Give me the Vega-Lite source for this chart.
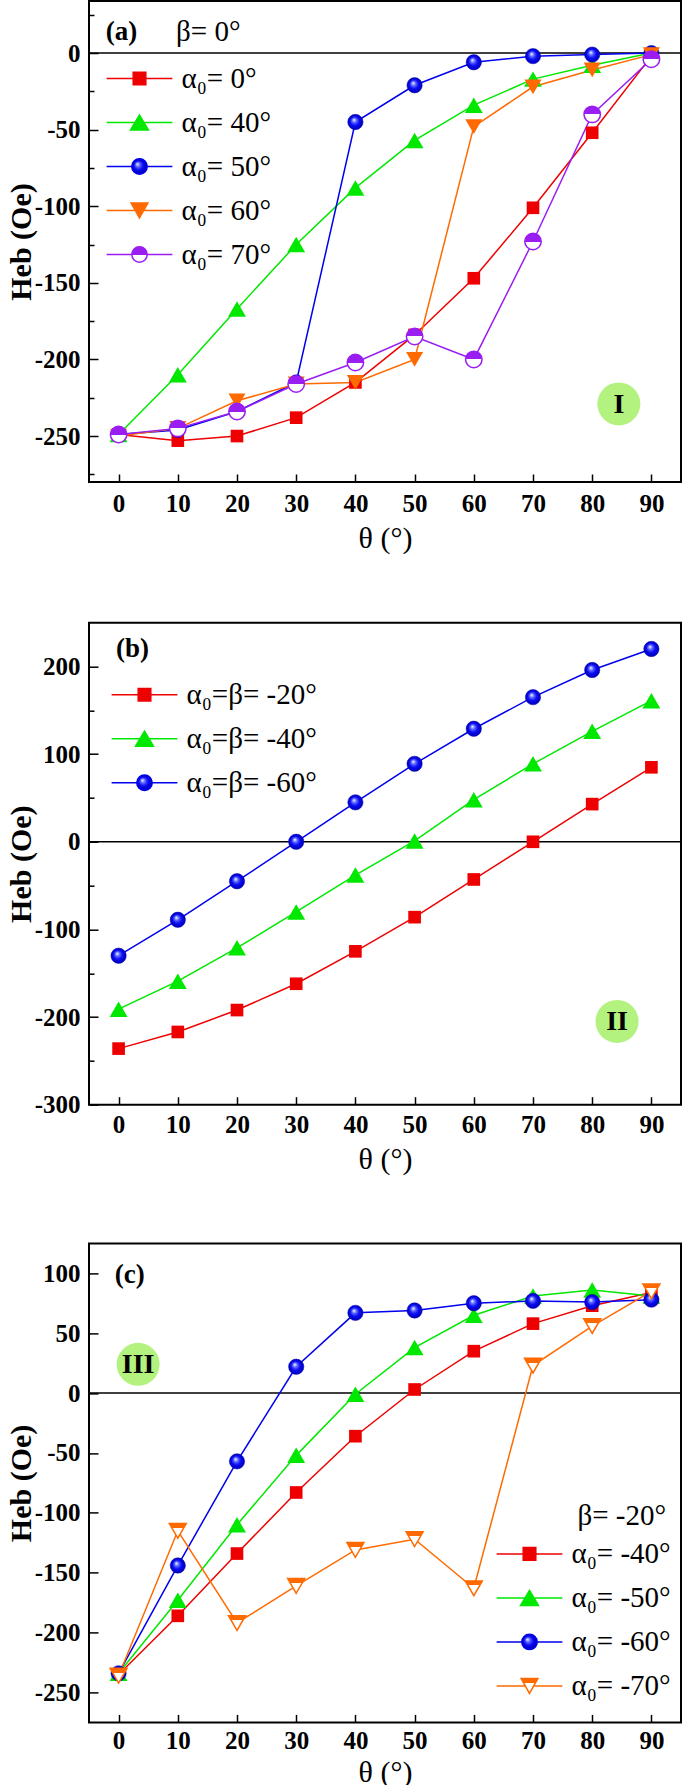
{
  "$schema": "https://vega.github.io/schema/vega-lite/v6.json",
  "padding": {"left": 5, "top": 0, "right": 0, "bottom": 0},
  "spacing": 66.7,
  "resolve": {"scale": {"color": "independent"}, "legend": {"color": "independent"}},
  "config": {
    "font": "Liberation Serif",
    "view": {"stroke": "#000", "strokeWidth": 2},
    "axis": {
      "labelFont": "Liberation Serif", "labelFontWeight": "bold", "labelFontSize": 25, "labelColor": "#000",
      "titleFont": "Liberation Serif", "titleColor": "#000", "titleFontSize": 30,
      "grid": false, "domain": false, "tickColor": "#000", "tickWidth": 1.5
    },
    "legend": {
      "labelFont": "Liberation Serif", "labelFontSize": 29, "labelColor": "#000", "labelLimit": 0,
      "symbolSize": 196, "symbolStrokeWidth": 1.5, "direction": "vertical", "padding": 0,
      "rowPadding": 14, "titleFontSize": 12, "titleColor": "#fff"
    }
  },
  "datasets": {
    "a": [
      {"s": "α₀= 0°", "t": 0, "h": -249}, {"s": "α₀= 0°", "t": 10, "h": -253}, {"s": "α₀= 0°", "t": 20, "h": -250}, {"s": "α₀= 0°", "t": 30, "h": -238}, {"s": "α₀= 0°", "t": 40, "h": -215}, {"s": "α₀= 0°", "t": 50, "h": -184}, {"s": "α₀= 0°", "t": 60, "h": -147}, {"s": "α₀= 0°", "t": 70, "h": -101}, {"s": "α₀= 0°", "t": 80, "h": -52}, {"s": "α₀= 0°", "t": 90, "h": -2},
      {"s": "α₀= 40°", "t": 0, "h": -249}, {"s": "α₀= 40°", "t": 10, "h": -210}, {"s": "α₀= 40°", "t": 20, "h": -167}, {"s": "α₀= 40°", "t": 30, "h": -125}, {"s": "α₀= 40°", "t": 40, "h": -88}, {"s": "α₀= 40°", "t": 50, "h": -57}, {"s": "α₀= 40°", "t": 60, "h": -34}, {"s": "α₀= 40°", "t": 70, "h": -17}, {"s": "α₀= 40°", "t": 80, "h": -8}, {"s": "α₀= 40°", "t": 90, "h": 0},
      {"s": "α₀= 50°", "t": 0, "h": -249}, {"s": "α₀= 50°", "t": 10, "h": -246}, {"s": "α₀= 50°", "t": 20, "h": -234}, {"s": "α₀= 50°", "t": 30, "h": -215}, {"s": "α₀= 50°", "t": 40, "h": -45}, {"s": "α₀= 50°", "t": 50, "h": -21}, {"s": "α₀= 50°", "t": 60, "h": -6}, {"s": "α₀= 50°", "t": 70, "h": -2}, {"s": "α₀= 50°", "t": 80, "h": -1}, {"s": "α₀= 50°", "t": 90, "h": 0},
      {"s": "α₀= 60°", "t": 0, "h": -250}, {"s": "α₀= 60°", "t": 10, "h": -245}, {"s": "α₀= 60°", "t": 20, "h": -227}, {"s": "α₀= 60°", "t": 30, "h": -216}, {"s": "α₀= 60°", "t": 40, "h": -215}, {"s": "α₀= 60°", "t": 50, "h": -200}, {"s": "α₀= 60°", "t": 60, "h": -48}, {"s": "α₀= 60°", "t": 70, "h": -22}, {"s": "α₀= 60°", "t": 80, "h": -11}, {"s": "α₀= 60°", "t": 90, "h": -1},
      {"s": "α₀= 70°", "t": 0, "h": -249}, {"s": "α₀= 70°", "t": 10, "h": -245}, {"s": "α₀= 70°", "t": 20, "h": -234}, {"s": "α₀= 70°", "t": 30, "h": -216}, {"s": "α₀= 70°", "t": 40, "h": -202}, {"s": "α₀= 70°", "t": 50, "h": -185}, {"s": "α₀= 70°", "t": 60, "h": -200}, {"s": "α₀= 70°", "t": 70, "h": -123}, {"s": "α₀= 70°", "t": 80, "h": -40}, {"s": "α₀= 70°", "t": 90, "h": -4}
    ],
    "b": [
      {"s": "α₀=β= -20°", "t": 0, "h": -236}, {"s": "α₀=β= -20°", "t": 10, "h": -217}, {"s": "α₀=β= -20°", "t": 20, "h": -192}, {"s": "α₀=β= -20°", "t": 30, "h": -162}, {"s": "α₀=β= -20°", "t": 40, "h": -125}, {"s": "α₀=β= -20°", "t": 50, "h": -86}, {"s": "α₀=β= -20°", "t": 60, "h": -43}, {"s": "α₀=β= -20°", "t": 70, "h": 0}, {"s": "α₀=β= -20°", "t": 80, "h": 43}, {"s": "α₀=β= -20°", "t": 90, "h": 85},
      {"s": "α₀=β= -40°", "t": 0, "h": -191}, {"s": "α₀=β= -40°", "t": 10, "h": -159}, {"s": "α₀=β= -40°", "t": 20, "h": -121}, {"s": "α₀=β= -40°", "t": 30, "h": -80}, {"s": "α₀=β= -40°", "t": 40, "h": -38}, {"s": "α₀=β= -40°", "t": 50, "h": 1}, {"s": "α₀=β= -40°", "t": 60, "h": 48}, {"s": "α₀=β= -40°", "t": 70, "h": 89}, {"s": "α₀=β= -40°", "t": 80, "h": 126}, {"s": "α₀=β= -40°", "t": 90, "h": 161},
      {"s": "α₀=β= -60°", "t": 0, "h": -130}, {"s": "α₀=β= -60°", "t": 10, "h": -89}, {"s": "α₀=β= -60°", "t": 20, "h": -45}, {"s": "α₀=β= -60°", "t": 30, "h": 0}, {"s": "α₀=β= -60°", "t": 40, "h": 45}, {"s": "α₀=β= -60°", "t": 50, "h": 89}, {"s": "α₀=β= -60°", "t": 60, "h": 129}, {"s": "α₀=β= -60°", "t": 70, "h": 165}, {"s": "α₀=β= -60°", "t": 80, "h": 196}, {"s": "α₀=β= -60°", "t": 90, "h": 220}
    ],
    "c": [
      {"s": "α₀= -40°", "t": 0, "h": -235}, {"s": "α₀= -40°", "t": 10, "h": -186}, {"s": "α₀= -40°", "t": 20, "h": -134}, {"s": "α₀= -40°", "t": 30, "h": -83}, {"s": "α₀= -40°", "t": 40, "h": -36}, {"s": "α₀= -40°", "t": 50, "h": 3}, {"s": "α₀= -40°", "t": 60, "h": 35}, {"s": "α₀= -40°", "t": 70, "h": 58}, {"s": "α₀= -40°", "t": 80, "h": 73}, {"s": "α₀= -40°", "t": 90, "h": 84},
      {"s": "α₀= -50°", "t": 0, "h": -234}, {"s": "α₀= -50°", "t": 10, "h": -173}, {"s": "α₀= -50°", "t": 20, "h": -110}, {"s": "α₀= -50°", "t": 30, "h": -52}, {"s": "α₀= -50°", "t": 40, "h": -1}, {"s": "α₀= -50°", "t": 50, "h": 38}, {"s": "α₀= -50°", "t": 60, "h": 65}, {"s": "α₀= -50°", "t": 70, "h": 81}, {"s": "α₀= -50°", "t": 80, "h": 86}, {"s": "α₀= -50°", "t": 90, "h": 81},
      {"s": "α₀= -60°", "t": 0, "h": -234}, {"s": "α₀= -60°", "t": 10, "h": -144}, {"s": "α₀= -60°", "t": 20, "h": -57}, {"s": "α₀= -60°", "t": 30, "h": 22}, {"s": "α₀= -60°", "t": 40, "h": 67}, {"s": "α₀= -60°", "t": 50, "h": 69}, {"s": "α₀= -60°", "t": 60, "h": 75}, {"s": "α₀= -60°", "t": 70, "h": 77}, {"s": "α₀= -60°", "t": 80, "h": 76}, {"s": "α₀= -60°", "t": 90, "h": 78},
      {"s": "α₀= -70°", "t": 0, "h": -236}, {"s": "α₀= -70°", "t": 10, "h": -115}, {"s": "α₀= -70°", "t": 20, "h": -192}, {"s": "α₀= -70°", "t": 30, "h": -161}, {"s": "α₀= -70°", "t": 40, "h": -131}, {"s": "α₀= -70°", "t": 50, "h": -122}, {"s": "α₀= -70°", "t": 60, "h": -163}, {"s": "α₀= -70°", "t": 70, "h": 23}, {"s": "α₀= -70°", "t": 80, "h": 56}, {"s": "α₀= -70°", "t": 90, "h": 85}
    ]
  },
  "vconcat": [
    {
      "width": 592, "height": 481,
      "data": {"name": "a"},
      "layer": [
        {"data": {"values": [{}]}, "mark": {"type": "rule", "color": "#000", "strokeWidth": 1.5}, "encoding": {"y": {"datum": 0}}},
        {
          "mark": {"type": "line", "strokeWidth": 1.5},
          "encoding": {
            "x": {"field": "t", "type": "quantitative", "scale": {"domain": [-5, 95], "nice": false, "zero": false},
                  "axis": {"title": "θ (°)", "titleFont": "Liberation Serif", "titleFontWeight": "normal", "labelFont": "Liberation Serif", "values": [0, 10, 20, 30, 40, 50, 60, 70, 80, 90], "tickSize": -8, "labelPadding": 17, "titlePadding": 7.5}},
            "y": {"field": "h", "type": "quantitative", "scale": {"domain": [-280, 34], "nice": false, "zero": false},
                  "axis": {"title": "Heb (Oe)", "titleFont": "Liberation Serif", "titleFontWeight": "bold", "labelFont": "Liberation Serif", "values": [-275, -250, -225, -200, -175, -150, -125, -100, -75, -50, -25, 0, 25],
                           "labelExpr": "datum.value % 50 === 0 ? '' + datum.value : ''",
                           "tickSize": {"condition": {"test": "datum.value % 50 === 0", "value": -9}, "value": -5},
                           "labelPadding": 18, "titlePadding": -2}},
            "color": {"field": "s", "type": "nominal",
              "scale": {"domain": ["α₀= 0°", "α₀= 40°", "α₀= 50°", "α₀= 60°", "α₀= 70°"], "range": ["#ee0000", "#00e800", "#0000ee", "#ff6a00", "#9a1df2"]},
              "legend": {"orient": "top-left", "offset": 36, "title": " ", "titlePadding": 15, "labelFontSize": 29, "rowPadding": 14, "symbolSize": 196, "padding": 0,
                "encode": {
                  "labels": {"update": {"font": {"value": "Liberation Serif"}, "fontSize": {"value": 29}, "fontWeight": {"value": "normal"}, "fill": {"value": "#000"}, "dx": {"value": 23.5}}},
                  "symbols": {"update": {
                  "shape": {"signal": "datum.value === 'α₀= 0°' ? 'M-4.7,0H-0.9M0.9,0H4.7M-0.9,-0.9H0.9V0.9H-0.9Z' : datum.value === 'α₀= 40°' ? 'M-4.7,0H-0.64M0.64,0H4.7M0,-1.07L1.28,1.07L-1.28,1.07Z' : datum.value === 'α₀= 60°' ? 'M-4.7,0H-0.6M0.6,0H4.7M0,1.07L1.2,-1.07L-1.2,-1.07Z' : 'M-4.7,0H-1.1M1.1,0H4.7M-1.1,0A1.1,1.1,0,1,1,1.1,0A1.1,1.1,0,1,1,-1.1,0Z'"},
                  "fill": {"signal": "datum.value === 'α₀= 0°' ? '#ee0000' : datum.value === 'α₀= 40°' ? '#00e800' : datum.value === 'α₀= 50°' ? {gradient: 'radial', x1: 0.465, y1: 0.46, r1: 0, x2: 0.5, y2: 0.5, r2: 0.116, stops: [{offset: 0, color: '#ffffff'}, {offset: 0.3, color: '#5a66ff'}, {offset: 0.6, color: '#0a0af5'}, {offset: 1, color: '#0000b4'}]} : datum.value === 'α₀= 60°' ? '#ff6a00' : {gradient: 'linear', x1: 0, y1: 0, x2: 0, y2: 1, stops: [{offset: 0, color: '#9a1df2'}, {offset: 0.5, color: '#9a1df2'}, {offset: 0.5, color: '#ffffff'}, {offset: 1, color: '#ffffff'}]}"},
                  "stroke": {"signal": "datum.value === 'α₀= 0°' ? '#ee0000' : datum.value === 'α₀= 40°' ? '#00e800' : datum.value === 'α₀= 50°' ? '#0000ee' : datum.value === 'α₀= 60°' ? '#ff6a00' : '#9a1df2'"},
                  "strokeWidth": {"value": 1.5}, "opacity": {"value": 1}
                }}}}}
          }
        },
        {"transform": [{"filter": "datum.s === 'α₀= 0°'"}], "mark": {"type": "point", "shape": "square", "filled": true, "fill": "#ee0000", "size": 160, "opacity": 1}, "encoding": {"x": {"field": "t", "type": "quantitative"}, "y": {"field": "h", "type": "quantitative"}}},
        {"transform": [{"filter": "datum.s === 'α₀= 40°'"}], "mark": {"type": "point", "shape": "triangle-up", "filled": true, "fill": "#00e800", "size": 320, "opacity": 1}, "encoding": {"x": {"field": "t", "type": "quantitative"}, "y": {"field": "h", "type": "quantitative"}}},
        {"transform": [{"filter": "datum.s === 'α₀= 50°'"}], "mark": {"type": "point", "shape": "circle", "filled": true, "size": 235, "opacity": 1, "stroke": "#0000b4", "strokeWidth": 0.5,
           "fill": {"gradient": "radial", "x1": 0.4, "y1": 0.35, "r1": 0, "x2": 0.5, "y2": 0.5, "r2": 0.5, "stops": [{"offset": 0, "color": "#ffffff"}, {"offset": 0.3, "color": "#5a66ff"}, {"offset": 0.6, "color": "#0a0af5"}, {"offset": 1, "color": "#0000b4"}]}},
         "encoding": {"x": {"field": "t", "type": "quantitative"}, "y": {"field": "h", "type": "quantitative"}}},
        {"transform": [{"filter": "datum.s === 'α₀= 60°'"}], "mark": {"type": "point", "shape": "triangle-down", "filled": true, "fill": "#ff6a00", "size": 290, "opacity": 1}, "encoding": {"x": {"field": "t", "type": "quantitative"}, "y": {"field": "h", "type": "quantitative"}}},
        {"transform": [{"filter": "datum.s === 'α₀= 70°'"}], "mark": {"type": "point", "shape": "circle", "filled": true, "size": 270, "opacity": 1, "stroke": "#9a1df2", "strokeWidth": 1.5,
           "fill": {"gradient": "linear", "x1": 0, "y1": 0, "x2": 0, "y2": 1, "stops": [{"offset": 0, "color": "#9a1df2"}, {"offset": 0.5, "color": "#9a1df2"}, {"offset": 0.5, "color": "#ffffff"}, {"offset": 1, "color": "#ffffff"}]}},
         "encoding": {"x": {"field": "t", "type": "quantitative"}, "y": {"field": "h", "type": "quantitative"}}},
        {"data": {"values": [{}]}, "mark": {"type": "point", "shape": "circle", "filled": true, "color": "#b3f27f", "size": 1849, "opacity": 1}, "encoding": {"x": {"datum": 84.5}, "y": {"datum": -229}}},
        {"data": {"values": [{}]}, "mark": {"type": "text", "text": "I", "font": "Liberation Serif", "fontWeight": "bold", "fontSize": 28, "color": "#000", "baseline": "middle", "align": "center", "dy": 1}, "encoding": {"x": {"datum": 84.5}, "y": {"datum": -229}}},
        {"data": {"values": [{}]}, "mark": {"type": "text", "text": "(a)", "font": "Liberation Serif", "fontWeight": "bold", "fontSize": 27, "color": "#000", "baseline": "middle", "align": "center"}, "encoding": {"x": {"datum": 0.5}, "y": {"datum": 14}}},
        {"data": {"values": [{}]}, "mark": {"type": "text", "text": "β= 0°", "font": "Liberation Serif", "fontSize": 29, "color": "#000", "baseline": "middle", "align": "left"}, "encoding": {"x": {"datum": 9.7}, "y": {"datum": 14}}}
      ]
    },
    {
      "width": 592, "height": 482,
      "data": {"name": "b"},
      "layer": [
        {"data": {"values": [{}]}, "mark": {"type": "rule", "color": "#000", "strokeWidth": 1.5}, "encoding": {"y": {"datum": 0}}},
        {
          "mark": {"type": "line", "strokeWidth": 1.5},
          "encoding": {
            "x": {"field": "t", "type": "quantitative", "scale": {"domain": [-5, 95], "nice": false, "zero": false},
                  "axis": {"title": "θ (°)", "titleFont": "Liberation Serif", "titleFontWeight": "normal", "labelFont": "Liberation Serif", "values": [0, 10, 20, 30, 40, 50, 60, 70, 80, 90], "tickSize": -8, "labelPadding": 16, "titlePadding": 6.6}},
            "y": {"field": "h", "type": "quantitative", "scale": {"domain": [-300, 250], "nice": false, "zero": false},
                  "axis": {"title": "Heb (Oe)", "titleFont": "Liberation Serif", "titleFontWeight": "bold", "labelFont": "Liberation Serif", "values": [-300, -250, -200, -150, -100, -50, 0, 50, 100, 150, 200],
                           "labelExpr": "datum.value % 100 === 0 ? '' + datum.value : ''",
                           "tickSize": {"condition": {"test": "datum.value % 100 === 0", "value": -9}, "value": -5},
                           "labelPadding": 18, "titlePadding": -2}},
            "color": {"field": "s", "type": "nominal",
              "scale": {"domain": ["α₀=β= -20°", "α₀=β= -40°", "α₀=β= -60°"], "range": ["#ee0000", "#00e800", "#0000ee"]},
              "legend": {"orient": "top-left", "offset": 41, "title": " ", "titlePadding": 4.5, "labelFontSize": 29, "rowPadding": 14, "symbolSize": 196, "padding": 0,
                "encode": {
                  "labels": {"update": {"font": {"value": "Liberation Serif"}, "fontSize": {"value": 29}, "fontWeight": {"value": "normal"}, "fill": {"value": "#000"}, "dx": {"value": 23.5}}},
                  "symbols": {"update": {
                  "shape": {"signal": "datum.value === 'α₀=β= -20°' ? 'M-4.7,0H-0.9M0.9,0H4.7M-0.9,-0.9H0.9V0.9H-0.9Z' : datum.value === 'α₀=β= -40°' ? 'M-4.7,0H-0.64M0.64,0H4.7M0,-1.07L1.28,1.07L-1.28,1.07Z' : 'M-4.7,0H-1.1M1.1,0H4.7M-1.1,0A1.1,1.1,0,1,1,1.1,0A1.1,1.1,0,1,1,-1.1,0Z'"},
                  "fill": {"signal": "datum.value === 'α₀=β= -20°' ? '#ee0000' : datum.value === 'α₀=β= -40°' ? '#00e800' : {gradient: 'radial', x1: 0.465, y1: 0.46, r1: 0, x2: 0.5, y2: 0.5, r2: 0.116, stops: [{offset: 0, color: '#ffffff'}, {offset: 0.3, color: '#5a66ff'}, {offset: 0.6, color: '#0a0af5'}, {offset: 1, color: '#0000b4'}]}"},
                  "stroke": {"signal": "datum.value === 'α₀=β= -20°' ? '#ee0000' : datum.value === 'α₀=β= -40°' ? '#00e800' : '#0000ee'"},
                  "strokeWidth": {"value": 1.5}, "opacity": {"value": 1}
                }}}}}
          }
        },
        {"transform": [{"filter": "datum.s === 'α₀=β= -20°'"}], "mark": {"type": "point", "shape": "square", "filled": true, "fill": "#ee0000", "size": 160, "opacity": 1}, "encoding": {"x": {"field": "t", "type": "quantitative"}, "y": {"field": "h", "type": "quantitative"}}},
        {"transform": [{"filter": "datum.s === 'α₀=β= -40°'"}], "mark": {"type": "point", "shape": "triangle-up", "filled": true, "fill": "#00e800", "size": 320, "opacity": 1}, "encoding": {"x": {"field": "t", "type": "quantitative"}, "y": {"field": "h", "type": "quantitative"}}},
        {"transform": [{"filter": "datum.s === 'α₀=β= -60°'"}], "mark": {"type": "point", "shape": "circle", "filled": true, "size": 235, "opacity": 1, "stroke": "#0000b4", "strokeWidth": 0.5,
           "fill": {"gradient": "radial", "x1": 0.4, "y1": 0.35, "r1": 0, "x2": 0.5, "y2": 0.5, "r2": 0.5, "stops": [{"offset": 0, "color": "#ffffff"}, {"offset": 0.3, "color": "#5a66ff"}, {"offset": 0.6, "color": "#0a0af5"}, {"offset": 1, "color": "#0000b4"}]}},
         "encoding": {"x": {"field": "t", "type": "quantitative"}, "y": {"field": "h", "type": "quantitative"}}},
        {"data": {"values": [{}]}, "mark": {"type": "point", "shape": "circle", "filled": true, "color": "#b3f27f", "size": 1849, "opacity": 1}, "encoding": {"x": {"datum": 84.2}, "y": {"datum": -205}}},
        {"data": {"values": [{}]}, "mark": {"type": "text", "text": "II", "font": "Liberation Serif", "fontWeight": "bold", "fontSize": 28, "color": "#000", "baseline": "middle", "align": "center", "dy": 1}, "encoding": {"x": {"datum": 84.2}, "y": {"datum": -205}}},
        {"data": {"values": [{}]}, "mark": {"type": "text", "text": "(b)", "font": "Liberation Serif", "fontWeight": "bold", "fontSize": 27, "color": "#000", "baseline": "middle", "align": "center"}, "encoding": {"x": {"datum": 2.35}, "y": {"datum": 220}}}
      ]
    },
    {
      "width": 592, "height": 479,
      "data": {"name": "c"},
      "layer": [
        {"data": {"values": [{}]}, "mark": {"type": "rule", "color": "#000", "strokeWidth": 1.5}, "encoding": {"y": {"datum": 0}}},
        {
          "mark": {"type": "line", "strokeWidth": 1.5},
          "encoding": {
            "x": {"field": "t", "type": "quantitative", "scale": {"domain": [-5, 95], "nice": false, "zero": false},
                  "axis": {"title": "θ (°)", "titleFont": "Liberation Serif", "titleFontWeight": "normal", "labelFont": "Liberation Serif", "values": [0, 10, 20, 30, 40, 50, 60, 70, 80, 90], "tickSize": -8, "labelPadding": 14.5, "titlePadding": 4}},
            "y": {"field": "h", "type": "quantitative", "scale": {"domain": [-275, 125], "nice": false, "zero": false},
                  "axis": {"title": "Heb (Oe)", "titleFont": "Liberation Serif", "titleFontWeight": "bold", "labelFont": "Liberation Serif", "values": [-250, -200, -150, -100, -50, 0, 50, 100],
                           "labelExpr": "'' + datum.value",
                           "tickSize": -9, "labelPadding": 18, "titlePadding": -2}},
            "color": {"field": "s", "type": "nominal",
              "scale": {"domain": ["α₀= -40°", "α₀= -50°", "α₀= -60°", "α₀= -70°"], "range": ["#ee0000", "#00e800", "#0000ee", "#ff6a00"]},
              "legend": {"orient": "bottom-right", "offset": 10, "title": " ", "titleOrient": "bottom", "titleFontSize": 8, "titlePadding": 3, "labelFontSize": 29, "rowPadding": 14, "symbolSize": 196, "padding": 0,
                "encode": {
                  "labels": {"update": {"font": {"value": "Liberation Serif"}, "fontSize": {"value": 29}, "fontWeight": {"value": "normal"}, "fill": {"value": "#000"}, "dx": {"value": 23.5}}},
                  "symbols": {"update": {
                  "shape": {"signal": "datum.value === 'α₀= -40°' ? 'M-4.7,0H-0.9M0.9,0H4.7M-0.9,-0.9H0.9V0.9H-0.9Z' : datum.value === 'α₀= -50°' ? 'M-4.7,0H-0.64M0.64,0H4.7M0,-1.07L1.28,1.07L-1.28,1.07Z' : datum.value === 'α₀= -70°' ? 'M-4.7,0H-0.6M0.6,0H4.7M0,1.07L1.2,-1.07L-1.2,-1.07Z' : 'M-4.7,0H-1.1M1.1,0H4.7M-1.1,0A1.1,1.1,0,1,1,1.1,0A1.1,1.1,0,1,1,-1.1,0Z'"},
                  "fill": {"signal": "datum.value === 'α₀= -40°' ? '#ee0000' : datum.value === 'α₀= -50°' ? '#00e800' : datum.value === 'α₀= -60°' ? {gradient: 'radial', x1: 0.465, y1: 0.46, r1: 0, x2: 0.5, y2: 0.5, r2: 0.116, stops: [{offset: 0, color: '#ffffff'}, {offset: 0.3, color: '#5a66ff'}, {offset: 0.6, color: '#0a0af5'}, {offset: 1, color: '#0000b4'}]} : {gradient: 'linear', x1: 0, y1: 0, x2: 0, y2: 1, stops: [{offset: 0, color: '#ff6a00'}, {offset: 0.3, color: '#ff6a00'}, {offset: 0.3, color: '#ffffff'}, {offset: 1, color: '#ffffff'}]}"},
                  "stroke": {"signal": "datum.value === 'α₀= -40°' ? '#ee0000' : datum.value === 'α₀= -50°' ? '#00e800' : datum.value === 'α₀= -60°' ? '#0000ee' : '#ff6a00'"},
                  "strokeWidth": {"value": 1.5}, "opacity": {"value": 1}
                }}}}}
          }
        },
        {"transform": [{"filter": "datum.s === 'α₀= -40°'"}], "mark": {"type": "point", "shape": "square", "filled": true, "fill": "#ee0000", "size": 160, "opacity": 1}, "encoding": {"x": {"field": "t", "type": "quantitative"}, "y": {"field": "h", "type": "quantitative"}}},
        {"transform": [{"filter": "datum.s === 'α₀= -50°'"}], "mark": {"type": "point", "shape": "triangle-up", "filled": true, "fill": "#00e800", "size": 320, "opacity": 1}, "encoding": {"x": {"field": "t", "type": "quantitative"}, "y": {"field": "h", "type": "quantitative"}}},
        {"transform": [{"filter": "datum.s === 'α₀= -60°'"}], "mark": {"type": "point", "shape": "circle", "filled": true, "size": 235, "opacity": 1, "stroke": "#0000b4", "strokeWidth": 0.5,
           "fill": {"gradient": "radial", "x1": 0.4, "y1": 0.35, "r1": 0, "x2": 0.5, "y2": 0.5, "r2": 0.5, "stops": [{"offset": 0, "color": "#ffffff"}, {"offset": 0.3, "color": "#5a66ff"}, {"offset": 0.6, "color": "#0a0af5"}, {"offset": 1, "color": "#0000b4"}]}},
         "encoding": {"x": {"field": "t", "type": "quantitative"}, "y": {"field": "h", "type": "quantitative"}}},
        {"transform": [{"filter": "datum.s === 'α₀= -70°'"}], "mark": {"type": "point", "shape": "triangle-down", "filled": true, "size": 290, "opacity": 1, "stroke": "#ff6a00", "strokeWidth": 1.5,
           "fill": {"gradient": "linear", "x1": 0, "y1": 0, "x2": 0, "y2": 1, "stops": [{"offset": 0, "color": "#ff6a00"}, {"offset": 0.3, "color": "#ff6a00"}, {"offset": 0.3, "color": "#ffffff"}, {"offset": 1, "color": "#ffffff"}]}},
         "encoding": {"x": {"field": "t", "type": "quantitative"}, "y": {"field": "h", "type": "quantitative"}}},
        {"data": {"values": [{}]}, "mark": {"type": "point", "shape": "circle", "filled": true, "color": "#b3f27f", "size": 1849, "opacity": 1}, "encoding": {"x": {"datum": 3.3}, "y": {"datum": 24}}},
        {"data": {"values": [{}]}, "mark": {"type": "text", "text": "III", "font": "Liberation Serif", "fontWeight": "bold", "fontSize": 28, "color": "#000", "baseline": "middle", "align": "center", "dy": 1}, "encoding": {"x": {"datum": 3.3}, "y": {"datum": 24}}},
        {"data": {"values": [{}]}, "mark": {"type": "text", "text": "(c)", "font": "Liberation Serif", "fontWeight": "bold", "fontSize": 27, "color": "#000", "baseline": "middle", "align": "center"}, "encoding": {"x": {"datum": 1.9}, "y": {"datum": 99}}},
        {"data": {"values": [{}]}, "mark": {"type": "text", "text": "β= -20°", "font": "Liberation Serif", "fontSize": 29, "color": "#000", "baseline": "middle", "align": "left"}, "encoding": {"x": {"datum": 77.5}, "y": {"datum": -102.7}}}
      ]
    }
  ]
}
